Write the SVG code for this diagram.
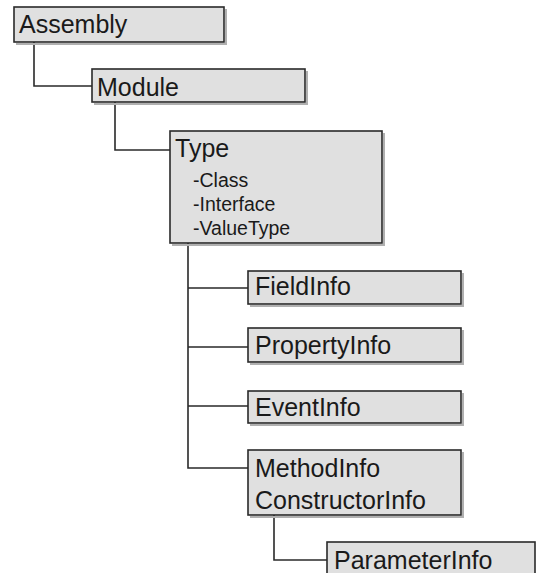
<svg xmlns="http://www.w3.org/2000/svg" width="537" height="573" viewBox="0 0 537 573">
<style>
.box{fill:#e0e0e0;stroke:#2a2a2a;stroke-width:1.6}
.sh{fill:none;stroke:#b0b0b0;stroke-width:2}
.t{font-family:"Liberation Sans",Arial,sans-serif;font-size:25px;fill:#1a1a1a}
.s{font-family:"Liberation Sans",Arial,sans-serif;font-size:19.5px;fill:#1a1a1a}
.c{fill:none;stroke:#2a2a2a;stroke-width:1.6}
</style>
<rect width="537" height="573" fill="#ffffff"/>
<g id="connectors">
<path class="c" d="M34,42 V86 H92"/>
<path class="c" d="M115,102 V150 H170"/>
<path class="c" d="M188,243 V468 H248 M188,288 H248 M188,347 H248 M188,406 H248"/>
<path class="c" d="M274,515 V560 H327"/>
</g>
<g id="assembly">
<path class="sh" d="M226,9 V44 H16"/>
<rect class="box" x="14" y="7" width="210" height="35"/>
<text class="t" x="19" y="33">Assembly</text>
</g>
<g id="module">
<path class="sh" d="M307,71 V104 H94"/>
<rect class="box" x="92" y="69" width="213" height="33"/>
<text class="t" x="97" y="96">Module</text>
</g>
<g id="type">
<path class="sh" d="M384,133 V245 H172"/>
<rect class="box" x="170" y="131" width="212" height="112"/>
<text class="t" x="175" y="157">Type</text>
<text class="s" x="193" y="187">-Class</text>
<text class="s" x="193" y="211">-Interface</text>
<text class="s" x="193" y="235">-ValueType</text>
</g>
<g id="fieldinfo">
<path class="sh" d="M463,273 V306 H250"/>
<rect class="box" x="248" y="271" width="213" height="33"/>
<text class="t" x="255" y="295">FieldInfo</text>
</g>
<g id="propertyinfo">
<path class="sh" d="M463,330 V364 H250"/>
<rect class="box" x="248" y="328" width="213" height="34"/>
<text class="t" x="255" y="354">PropertyInfo</text>
</g>
<g id="eventinfo">
<path class="sh" d="M463,393 V425 H250"/>
<rect class="box" x="248" y="391" width="213" height="32"/>
<text class="t" x="255" y="416">EventInfo</text>
</g>
<g id="methodinfo">
<path class="sh" d="M463,452 V517 H250"/>
<rect class="box" x="248" y="450" width="213" height="65"/>
<text class="t" x="255" y="477">MethodInfo</text>
<text class="t" x="255" y="509">ConstructorInfo</text>
</g>
<g id="parameterinfo">
<rect class="box" x="327" y="542" width="208" height="40"/>
<text class="t" x="334" y="569">ParameterInfo</text>
</g>
</svg>
